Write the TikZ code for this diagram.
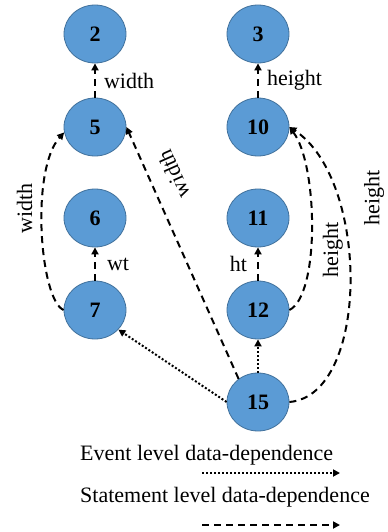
\documentclass[tikz,border=0pt]{standalone}
\usepackage{fontspec}
\setmainfont{Liberation Serif}
\usepackage{tikz}
\usetikzlibrary{shapes.geometric,arrows.meta,positioning}
\definecolor{nodeblue}{RGB}{91,155,213}
\definecolor{nodeedge}{RGB}{65,113,156}

\begin{document}
\begin{tikzpicture}[x=1pt, y=1pt,
    stmt/.style={ellipse, fill=nodeblue, draw=nodeedge, line width=0.8pt, minimum width=62pt, minimum height=58pt, inner sep=0pt, font=\fontsize{22}{26}\selectfont\bfseries},
    lbl/.style={font=\fontsize{22}{26}\selectfont, inner sep=3pt},
    stdep/.style={-{Triangle[length=7pt,width=7pt]}, line width=2pt, dash pattern=on 7pt off 5pt},
    evdep/.style={-{Triangle[length=7pt,width=7pt]}, line width=2pt, dash pattern=on 2pt off 2pt}]
    \fill[white] (0,0) rectangle (387,-532);
    % statement nodes
    \node[stmt] (n2) at (95,-34) {2};
    \node[stmt] (n3) at (258,-34) {3};
    \node[stmt] (n5) at (95,-127) {5};
    \node[stmt] (n10) at (258,-127) {10};
    \node[stmt] (n6) at (95,-218) {6};
    \node[stmt] (n11) at (258,-218) {11};
    \node[stmt] (n7) at (95,-310) {7};
    \node[stmt] (n12) at (258,-310) {12};
    \node[stmt] (n15) at (258,-402) {15};
    % statement level dependences
    \draw[stdep] (n5) -- node[lbl, right=5pt] {width} (n2);
    \draw[stdep] (n10) -- node[lbl, right=5pt] {height} (n3);
    \draw[stdep] (n7) -- node[lbl, right=8pt] {wt} (n6);
    \draw[stdep] (n12) -- node[lbl, left=7pt] {ht} (n11);
    \draw[stdep] (n7.west) .. controls (40,-300) and (30,-170) .. node[lbl, pos=.6, rotate=90, anchor=south, yshift=6pt] {width} (n5.190);
    \draw[stdep] (n15.130) -- node[lbl, pos=.774, sloped, allow upside down, below=12pt] {width} (n5.east);
    \draw[stdep] (n12.east) .. controls (320,-295) and (318,-165) .. node[lbl, pos=.4, rotate=90, anchor=north, yshift=-8pt] {height} (n10.east);
    \draw[stdep] (n15.east) .. controls (370,-395) and (370,-180) .. node[lbl, pos=.73, rotate=90, anchor=north, yshift=-23pt] {height} (n10.east);
    % event level dependences
    \draw[evdep] (n15) -- (n12);
    \draw[evdep] (n15.west) -- (n7.-40);
    % legend
    \node[lbl, anchor=west] (evtxt) at (77,-455) {Event level data-dependence};
    \coordinate (evs) at (202,-473);
    \coordinate (eve) at (340,-473);
    \draw[evdep] (evs) -- (eve);
    \node[lbl, anchor=west] (sttxt) at (77,-497) {Statement level data-dependence};
    \coordinate (sts) at (202,-525);
    \coordinate (ste) at (340,-525);
    \draw[stdep] (sts) -- (ste);
\end{tikzpicture}
\end{document}
